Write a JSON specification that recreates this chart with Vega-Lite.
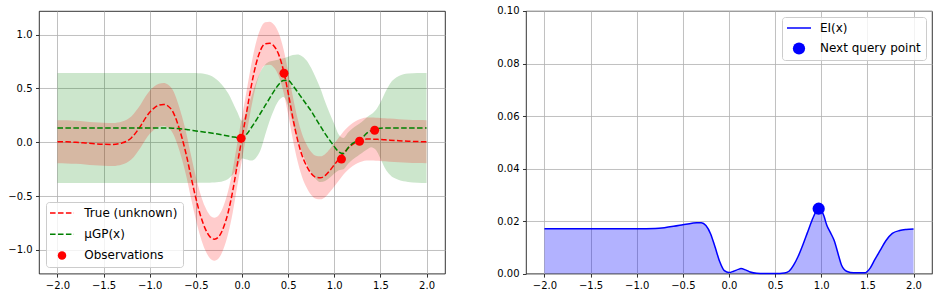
{
  "$schema": "https://vega.github.io/schema/vega-lite/v6.json",
  "background": "white",
  "padding": {"left": 7, "top": 5, "right": 4, "bottom": 4},
  "bounds": "flush",
  "spacing": 81,
  "config": {
    "font": "DejaVu Sans",
    "view": {"stroke": "black", "strokeWidth": 0.8},
    "axis": {
      "domain": false, "grid": true, "gridColor": "#b0b0b0", "gridWidth": 0.8, "gridOpacity": 1,
      "ticks": true, "tickColor": "black", "tickSize": 3.5, "tickWidth": 0.8,
      "labelFont": "DejaVu Sans", "labelFontSize": 10, "labelColor": "black", "labelPadding": 3.5,
      "title": null, "zindex": 1, "labelFlush": false, "labelOverlap": false
    }
  },
  "datasets": {
    "gp": [
      {"x": -2.0, "f": 0.005, "mu": 0.133, "glo": -0.378, "ghi": 0.645, "rlo": -0.195, "rhi": 0.205},
      {"x": -1.9, "f": 0.004, "mu": 0.133, "glo": -0.378, "ghi": 0.645, "rlo": -0.196, "rhi": 0.204},
      {"x": -1.8, "f": 0.0, "mu": 0.133, "glo": -0.378, "ghi": 0.645, "rlo": -0.2, "rhi": 0.2},
      {"x": -1.7, "f": -0.006, "mu": 0.133, "glo": -0.378, "ghi": 0.645, "rlo": -0.206, "rhi": 0.194},
      {"x": -1.6, "f": -0.013, "mu": 0.133, "glo": -0.378, "ghi": 0.645, "rlo": -0.213, "rhi": 0.187},
      {"x": -1.5, "f": -0.018, "mu": 0.133, "glo": -0.378, "ghi": 0.645, "rlo": -0.218, "rhi": 0.182},
      {"x": -1.4, "f": -0.02, "mu": 0.133, "glo": -0.378, "ghi": 0.645, "rlo": -0.22, "rhi": 0.18},
      {"x": -1.3, "f": -0.006, "mu": 0.133, "glo": -0.378, "ghi": 0.645, "rlo": -0.206, "rhi": 0.194},
      {"x": -1.25, "f": 0.01, "mu": 0.133, "glo": -0.378, "ghi": 0.645, "rlo": -0.19, "rhi": 0.21},
      {"x": -1.2, "f": 0.04, "mu": 0.133, "glo": -0.378, "ghi": 0.645, "rlo": -0.16, "rhi": 0.24},
      {"x": -1.15, "f": 0.09, "mu": 0.133, "glo": -0.378, "ghi": 0.645, "rlo": -0.11, "rhi": 0.29},
      {"x": -1.1, "f": 0.15, "mu": 0.133, "glo": -0.378, "ghi": 0.645, "rlo": -0.05, "rhi": 0.35},
      {"x": -1.05, "f": 0.22, "mu": 0.133, "glo": -0.378, "ghi": 0.645, "rlo": 0.02, "rhi": 0.42},
      {"x": -1.0, "f": 0.28, "mu": 0.133, "glo": -0.378, "ghi": 0.645, "rlo": 0.08, "rhi": 0.48},
      {"x": -0.95, "f": 0.32, "mu": 0.133, "glo": -0.378, "ghi": 0.645, "rlo": 0.12, "rhi": 0.52},
      {"x": -0.9, "f": 0.345, "mu": 0.133, "glo": -0.378, "ghi": 0.645, "rlo": 0.145, "rhi": 0.545},
      {"x": -0.85, "f": 0.352, "mu": 0.133, "glo": -0.378, "ghi": 0.645, "rlo": 0.152, "rhi": 0.552},
      {"x": -0.8, "f": 0.335, "mu": 0.132, "glo": -0.378, "ghi": 0.645, "rlo": 0.135, "rhi": 0.535},
      {"x": -0.75, "f": 0.285, "mu": 0.131, "glo": -0.378, "ghi": 0.645, "rlo": 0.085, "rhi": 0.485},
      {"x": -0.7, "f": 0.18, "mu": 0.128, "glo": -0.378, "ghi": 0.645, "rlo": -0.02, "rhi": 0.38},
      {"x": -0.65, "f": 0.04, "mu": 0.124, "glo": -0.378, "ghi": 0.645, "rlo": -0.16, "rhi": 0.24},
      {"x": -0.6, "f": -0.13, "mu": 0.12, "glo": -0.378, "ghi": 0.645, "rlo": -0.33, "rhi": 0.07},
      {"x": -0.55, "f": -0.33, "mu": 0.113, "glo": -0.378, "ghi": 0.645, "rlo": -0.53, "rhi": -0.13},
      {"x": -0.5, "f": -0.52, "mu": 0.106, "glo": -0.378, "ghi": 0.644, "rlo": -0.72, "rhi": -0.32},
      {"x": -0.45, "f": -0.68, "mu": 0.1, "glo": -0.377, "ghi": 0.641, "rlo": -0.88, "rhi": -0.48},
      {"x": -0.4, "f": -0.8, "mu": 0.094, "glo": -0.376, "ghi": 0.635, "rlo": -1.0, "rhi": -0.6},
      {"x": -0.35, "f": -0.875, "mu": 0.088, "glo": -0.375, "ghi": 0.622, "rlo": -1.075, "rhi": -0.675},
      {"x": -0.3, "f": -0.9, "mu": 0.081, "glo": -0.373, "ghi": 0.6, "rlo": -1.1, "rhi": -0.7},
      {"x": -0.25, "f": -0.875, "mu": 0.074, "glo": -0.37, "ghi": 0.565, "rlo": -1.075, "rhi": -0.675},
      {"x": -0.2, "f": -0.79, "mu": 0.066, "glo": -0.36, "ghi": 0.515, "rlo": -0.99, "rhi": -0.59},
      {"x": -0.15, "f": -0.65, "mu": 0.058, "glo": -0.34, "ghi": 0.455, "rlo": -0.85, "rhi": -0.45},
      {"x": -0.1, "f": -0.45, "mu": 0.05, "glo": -0.3, "ghi": 0.37, "rlo": -0.65, "rhi": -0.25},
      {"x": -0.05, "f": -0.2, "mu": 0.043, "glo": -0.23, "ghi": 0.28, "rlo": -0.4, "rhi": 0.0},
      {"x": 0.0, "f": 0.04, "mu": 0.04, "glo": -0.15, "ghi": 0.2, "rlo": -0.16, "rhi": 0.24},
      {"x": 0.05, "f": 0.28, "mu": 0.075, "glo": -0.16, "ghi": 0.29, "rlo": 0.08, "rhi": 0.48},
      {"x": 0.1, "f": 0.52, "mu": 0.135, "glo": -0.17, "ghi": 0.42, "rlo": 0.32, "rhi": 0.72},
      {"x": 0.15, "f": 0.72, "mu": 0.2, "glo": -0.145, "ghi": 0.55, "rlo": 0.52, "rhi": 0.92},
      {"x": 0.2, "f": 0.855, "mu": 0.27, "glo": -0.075, "ghi": 0.655, "rlo": 0.655, "rhi": 1.055},
      {"x": 0.25, "f": 0.915, "mu": 0.34, "glo": 0.065, "ghi": 0.72, "rlo": 0.715, "rhi": 1.115},
      {"x": 0.3, "f": 0.92, "mu": 0.41, "glo": 0.2, "ghi": 0.75, "rlo": 0.72, "rhi": 1.12},
      {"x": 0.35, "f": 0.89, "mu": 0.48, "glo": 0.31, "ghi": 0.76, "rlo": 0.69, "rhi": 1.09},
      {"x": 0.4, "f": 0.81, "mu": 0.54, "glo": 0.39, "ghi": 0.77, "rlo": 0.61, "rhi": 1.01},
      {"x": 0.45, "f": 0.665, "mu": 0.575, "glo": 0.42, "ghi": 0.78, "rlo": 0.465, "rhi": 0.865},
      {"x": 0.5, "f": 0.46, "mu": 0.575, "glo": 0.34, "ghi": 0.795, "rlo": 0.26, "rhi": 0.66},
      {"x": 0.55, "f": 0.23, "mu": 0.53, "glo": 0.18, "ghi": 0.81, "rlo": 0.03, "rhi": 0.43},
      {"x": 0.6, "f": 0.03, "mu": 0.47, "glo": 0.04, "ghi": 0.815, "rlo": -0.17, "rhi": 0.23},
      {"x": 0.65, "f": -0.12, "mu": 0.41, "glo": -0.09, "ghi": 0.8, "rlo": -0.32, "rhi": 0.08},
      {"x": 0.7, "f": -0.22, "mu": 0.35, "glo": -0.19, "ghi": 0.76, "rlo": -0.42, "rhi": -0.02},
      {"x": 0.75, "f": -0.29, "mu": 0.29, "glo": -0.28, "ghi": 0.69, "rlo": -0.49, "rhi": -0.09},
      {"x": 0.8, "f": -0.325, "mu": 0.22, "glo": -0.34, "ghi": 0.6, "rlo": -0.525, "rhi": -0.125},
      {"x": 0.85, "f": -0.33, "mu": 0.15, "glo": -0.37, "ghi": 0.5, "rlo": -0.53, "rhi": -0.13},
      {"x": 0.9, "f": -0.31, "mu": 0.08, "glo": -0.36, "ghi": 0.38, "rlo": -0.51, "rhi": -0.11},
      {"x": 0.95, "f": -0.265, "mu": 0.02, "glo": -0.33, "ghi": 0.27, "rlo": -0.465, "rhi": -0.065},
      {"x": 1.0, "f": -0.21, "mu": -0.04, "glo": -0.29, "ghi": 0.17, "rlo": -0.41, "rhi": -0.01},
      {"x": 1.05, "f": -0.155, "mu": -0.09, "glo": -0.26, "ghi": 0.07, "rlo": -0.355, "rhi": 0.045},
      {"x": 1.1, "f": -0.1, "mu": -0.105, "glo": -0.25, "ghi": 0.04, "rlo": -0.3, "rhi": 0.1},
      {"x": 1.15, "f": -0.055, "mu": -0.05, "glo": -0.2, "ghi": 0.09, "rlo": -0.255, "rhi": 0.145},
      {"x": 1.2, "f": -0.02, "mu": -0.01, "glo": -0.16, "ghi": 0.13, "rlo": -0.22, "rhi": 0.18},
      {"x": 1.25, "f": 0.005, "mu": 0.015, "glo": -0.13, "ghi": 0.16, "rlo": -0.195, "rhi": 0.205},
      {"x": 1.3, "f": 0.022, "mu": 0.04, "glo": -0.1, "ghi": 0.19, "rlo": -0.178, "rhi": 0.222},
      {"x": 1.35, "f": 0.03, "mu": 0.083, "glo": -0.07, "ghi": 0.23, "rlo": -0.17, "rhi": 0.23},
      {"x": 1.4, "f": 0.03, "mu": 0.108, "glo": -0.045, "ghi": 0.26, "rlo": -0.17, "rhi": 0.23},
      {"x": 1.45, "f": 0.028, "mu": 0.123, "glo": -0.07, "ghi": 0.3, "rlo": -0.172, "rhi": 0.228},
      {"x": 1.5, "f": 0.026, "mu": 0.13, "glo": -0.15, "ghi": 0.37, "rlo": -0.174, "rhi": 0.226},
      {"x": 1.55, "f": 0.023, "mu": 0.133, "glo": -0.24, "ghi": 0.46, "rlo": -0.177, "rhi": 0.223},
      {"x": 1.6, "f": 0.02, "mu": 0.134, "glo": -0.3, "ghi": 0.54, "rlo": -0.18, "rhi": 0.22},
      {"x": 1.7, "f": 0.015, "mu": 0.134, "glo": -0.35, "ghi": 0.615, "rlo": -0.185, "rhi": 0.215},
      {"x": 1.8, "f": 0.01, "mu": 0.134, "glo": -0.368, "ghi": 0.64, "rlo": -0.19, "rhi": 0.21},
      {"x": 1.9, "f": 0.007, "mu": 0.134, "glo": -0.375, "ghi": 0.645, "rlo": -0.193, "rhi": 0.207},
      {"x": 2.0, "f": 0.005, "mu": 0.134, "glo": -0.378, "ghi": 0.645, "rlo": -0.195, "rhi": 0.205}
    ],
    "obs": [
      {"x": -0.01, "y": 0.037},
      {"x": 0.455, "y": 0.642},
      {"x": 1.078, "y": -0.156},
      {"x": 1.274, "y": 0.01},
      {"x": 1.438, "y": 0.112}
    ],
    "ei": [
      {"x": -2.0, "ei": 0.0171}, {"x": -1.5, "ei": 0.0171}, {"x": -1.0, "ei": 0.0171},
      {"x": -0.8, "ei": 0.0172}, {"x": -0.7, "ei": 0.0175}, {"x": -0.6, "ei": 0.018},
      {"x": -0.5, "ei": 0.0186}, {"x": -0.4, "ei": 0.0192}, {"x": -0.35, "ei": 0.0194},
      {"x": -0.3, "ei": 0.0194}, {"x": -0.25, "ei": 0.0183}, {"x": -0.2, "ei": 0.0152},
      {"x": -0.15, "ei": 0.01}, {"x": -0.1, "ei": 0.0045}, {"x": -0.05, "ei": 0.0011},
      {"x": 0.0, "ei": 0.0004}, {"x": 0.05, "ei": 0.0009}, {"x": 0.1, "ei": 0.0016},
      {"x": 0.13, "ei": 0.0019}, {"x": 0.18, "ei": 0.0014}, {"x": 0.23, "ei": 0.0006},
      {"x": 0.3, "ei": 0.0001}, {"x": 0.4, "ei": 0.0}, {"x": 0.5, "ei": 0.0},
      {"x": 0.6, "ei": 0.0002}, {"x": 0.65, "ei": 0.0009}, {"x": 0.7, "ei": 0.0032},
      {"x": 0.75, "ei": 0.0066}, {"x": 0.8, "ei": 0.0109}, {"x": 0.85, "ei": 0.0156},
      {"x": 0.9, "ei": 0.0203}, {"x": 0.94, "ei": 0.0234}, {"x": 0.97, "ei": 0.0246},
      {"x": 1.0, "ei": 0.024}, {"x": 1.03, "ei": 0.0218}, {"x": 1.06, "ei": 0.0184},
      {"x": 1.1, "ei": 0.0156}, {"x": 1.14, "ei": 0.0126}, {"x": 1.19, "ei": 0.0066},
      {"x": 1.22, "ei": 0.0032}, {"x": 1.28, "ei": 0.0008}, {"x": 1.35, "ei": 0.0003},
      {"x": 1.47, "ei": 0.0003}, {"x": 1.53, "ei": 0.0021}, {"x": 1.58, "ei": 0.0053},
      {"x": 1.64, "ei": 0.0089}, {"x": 1.7, "ei": 0.0125}, {"x": 1.77, "ei": 0.0153},
      {"x": 1.85, "ei": 0.0164}, {"x": 1.92, "ei": 0.0168}, {"x": 2.0, "ei": 0.017}
    ],
    "next": [
      {"x": 0.972, "ei": 0.0247}
    ]
  },
  "hconcat": [
    {
      "width": 406,
      "height": 262.6,
      "layer": [
        {
          "data": {"name": "gp"},
          "mark": {"type": "area", "color": "#008000", "fillOpacity": 0.2, "interpolate": "monotone"},
          "encoding": {
            "x": {"field": "x", "type": "quantitative", "scale": {"domain": [-2.2, 2.2], "nice": false, "zero": false},
                  "axis": {"values": [-2, -1.5, -1, -0.5, 0, 0.5, 1, 1.5, 2], "format": ".1f"}},
            "y": {"field": "glo", "type": "quantitative", "scale": {"domain": [-1.22, 1.22], "nice": false, "zero": false},
                  "axis": {"values": [-1, -0.5, 0, 0.5, 1], "format": ".1f"}},
            "y2": {"field": "ghi"}
          }
        },
        {
          "data": {"name": "gp"},
          "mark": {"type": "area", "color": "#ff0000", "fillOpacity": 0.2, "interpolate": "monotone"},
          "encoding": {
            "x": {"field": "x", "type": "quantitative"},
            "y": {"field": "rlo", "type": "quantitative"},
            "y2": {"field": "rhi"}
          }
        },
        {
          "data": {"name": "gp"},
          "mark": {"type": "line", "strokeWidth": 1.5, "strokeDash": [5.55, 2.4], "interpolate": "monotone"},
          "encoding": {
            "x": {"field": "x", "type": "quantitative"},
            "y": {"field": "f", "type": "quantitative"},
            "color": {
              "datum": "True (unknown)", "type": "nominal",
              "scale": {"domain": ["True (unknown)", "μGP(x)", "Observations"], "range": ["#ff0000", "#008000", "#ff0000"]},
              "legend": {
                "orient": "bottom-left", "offset": 7, "title": null, "zindex": 2,
                "labelFont": "DejaVu Sans", "labelFontSize": 12, "labelColor": "black",
                "symbolType": "stroke", "symbolStrokeWidth": 1.5,
                "labelOffset": 10, "padding": 5, "rowPadding": 9.2,
                "fillColor": "rgba(255,255,255,0.8)", "strokeColor": "#cccccc", "cornerRadius": 3,
                "encode": {
                  "symbols": {
                    "update": {
                      "x": {"value": 11},
                      "shape": {"signal": "datum.value === 'Observations' ? 'circle' : 'stroke'"},
                      "size": {"signal": "datum.value === 'Observations' ? 72 : 576"},
                      "fill": {"signal": "datum.value === 'Observations' ? '#ff0000' : 'transparent'"},
                      "stroke": {"signal": "datum.value === 'μGP(x)' ? '#008000' : '#ff0000'"},
                      "strokeWidth": {"signal": "datum.value === 'Observations' ? 0 : 1.5"},
                      "strokeDash": {"signal": "datum.value === 'Observations' ? [1, 0] : [5.55, 2.4]"},
                      "opacity": {"value": 1}
                    }
                  },
                  "labels": {
                    "update": {"x": {"value": 33.3}}
                  }
                }
              }
            }
          }
        },
        {
          "data": {"name": "gp"},
          "mark": {"type": "line", "strokeWidth": 1.5, "strokeDash": [5.55, 2.4], "interpolate": "monotone"},
          "encoding": {
            "x": {"field": "x", "type": "quantitative"},
            "y": {"field": "mu", "type": "quantitative"},
            "color": {"datum": "μGP(x)", "type": "nominal"}
          }
        },
        {
          "data": {"name": "obs"},
          "mark": {"type": "point", "filled": true, "opacity": 1, "size": 81},
          "encoding": {
            "x": {"field": "x", "type": "quantitative"},
            "y": {"field": "y", "type": "quantitative"},
            "color": {"datum": "Observations", "type": "nominal"}
          }
        }
      ]
    },
    {
      "width": 406,
      "height": 262.6,
      "layer": [
        {
          "data": {"name": "ei"},
          "mark": {"type": "area", "color": "#0000ff", "fillOpacity": 0.3, "interpolate": "monotone"},
          "encoding": {
            "x": {"field": "x", "type": "quantitative", "scale": {"domain": [-2.2, 2.2], "nice": false, "zero": false},
                  "axis": {"values": [-2, -1.5, -1, -0.5, 0, 0.5, 1, 1.5, 2], "format": ".1f"}},
            "y": {"field": "ei", "type": "quantitative", "stack": null, "scale": {"domain": [0, 0.1], "nice": false},
                  "axis": {"values": [0, 0.02, 0.04, 0.06, 0.08, 0.1], "format": ".2f"}}
          }
        },
        {
          "data": {"name": "ei"},
          "mark": {"type": "line", "strokeWidth": 1.5, "interpolate": "monotone"},
          "encoding": {
            "x": {"field": "x", "type": "quantitative"},
            "y": {"field": "ei", "type": "quantitative"},
            "color": {
              "datum": "EI(x)", "type": "nominal",
              "scale": {"domain": ["EI(x)", "Next query point"], "range": ["#0000ff", "#0000ff"]},
              "legend": {
                "orient": "top-right", "offset": 6, "title": null, "zindex": 2,
                "labelFont": "DejaVu Sans", "labelFontSize": 12, "labelColor": "black",
                "symbolType": "stroke", "symbolStrokeWidth": 1.5,
                "labelOffset": 9, "padding": 5, "rowPadding": 7.5,
                "fillColor": "rgba(255,255,255,0.8)", "strokeColor": "#cccccc", "cornerRadius": 3,
                "encode": {
                  "symbols": {
                    "update": {
                      "x": {"value": 12},
                      "shape": {"signal": "datum.value === 'Next query point' ? 'circle' : 'stroke'"},
                      "size": {"signal": "datum.value === 'Next query point' ? 150 : 576"},
                      "fill": {"signal": "datum.value === 'Next query point' ? '#0000ff' : 'transparent'"},
                      "stroke": {"value": "#0000ff"},
                      "strokeWidth": {"signal": "datum.value === 'Next query point' ? 0 : 1.5"},
                      "opacity": {"value": 1}
                    }
                  },
                  "labels": {
                    "update": {"x": {"value": 33}}
                  }
                }
              }
            }
          }
        },
        {
          "data": {"name": "next"},
          "mark": {"type": "point", "filled": true, "opacity": 1, "size": 150},
          "encoding": {
            "x": {"field": "x", "type": "quantitative"},
            "y": {"field": "ei", "type": "quantitative"},
            "color": {"datum": "Next query point", "type": "nominal"}
          }
        }
      ]
    }
  ],
  "resolve": {"scale": {"color": "independent"}, "legend": {"color": "independent"}}
}
